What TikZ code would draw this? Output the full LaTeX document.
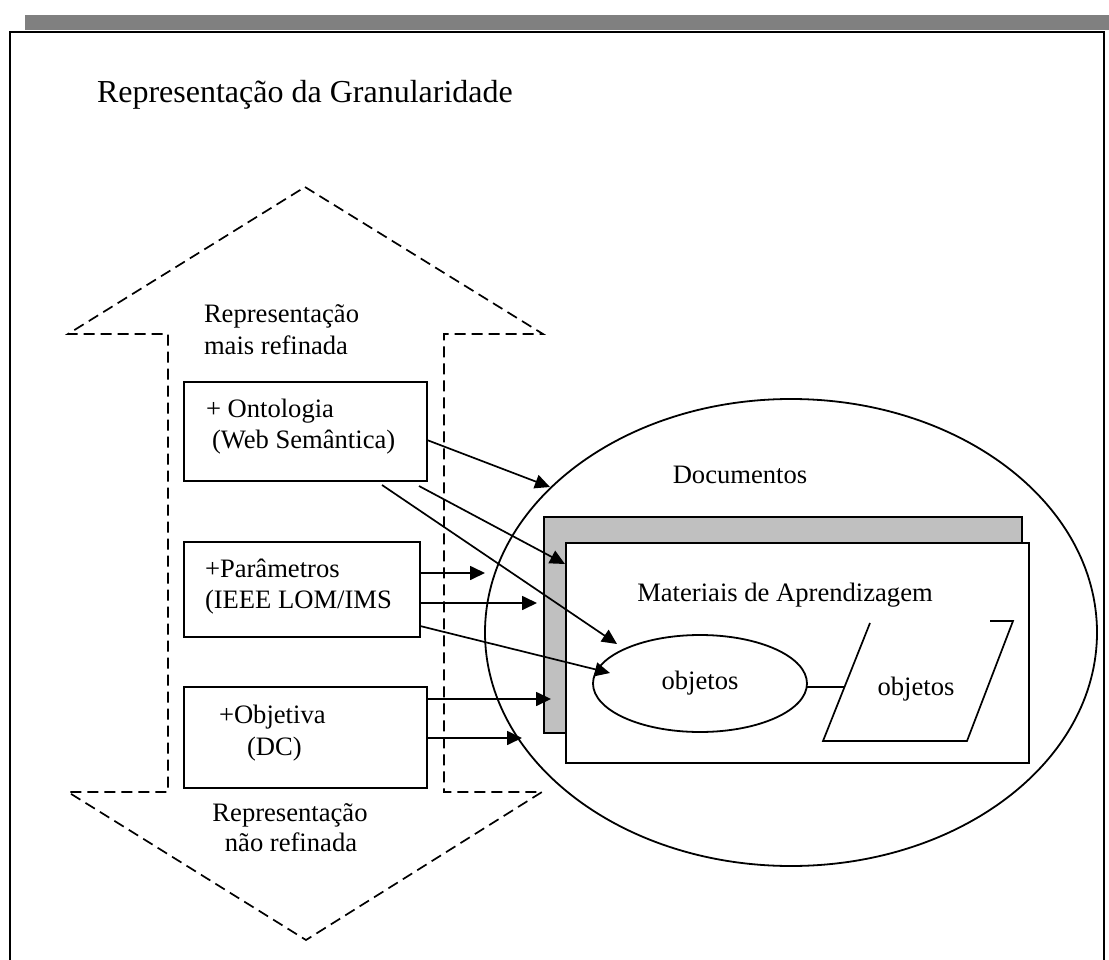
\documentclass[tikz,border=0pt]{standalone}
\usepackage{fontspec}
\setmainfont{Liberation Serif}
\usetikzlibrary{arrows.meta,shapes.geometric,calc}
\definecolor{shadowgray}{HTML}{808080}
\definecolor{sheetgray}{HTML}{C0C0C0}
\begin{document}
\begin{tikzpicture}[x=1pt,y=-1pt,
  every node/.style={inner sep=0pt, outer sep=0pt},
  lbl/.style={font=\fontsize{26.6}{31}\selectfont},
  ttl/.style={font=\fontsize{32}{38}\selectfont},
  box/.style={draw, line width=1.9pt, fill=white, rectangle},
  oval/.style={draw, line width=1.8pt, ellipse},
  dasharrow/.style={line width=1.7pt, dash pattern=on 11pt off 6pt},
  link/.style={line width=1.7pt, -{Triangle[length=15pt,width=14pt]}},
  plain/.style={line width=1.7pt}
]
\useasboundingbox (0,0) rectangle (1109,960);

% page header: shadow bar and frame
\fill[shadowgray] (25,15) rectangle (1109,30.5);
\draw[line width=2pt] (9.5,960) -- (9.5,31.7) -- (1104,31.7) -- (1104,960);

\node[ttl, anchor=base west] (title) at (97,103) {Representação da Granularidade};

% dashed double arrow (granularity scale)
\draw[dasharrow] (305,187) -- (543,334) -- (444,334) -- (444,792) -- (542,792)
  -- (306,940) -- (68,792) -- (168,792) -- (168,334) -- (68,334) -- cycle;

\node[lbl, anchor=base west] (up1) at (204,323) {Representação};
\node[lbl, anchor=base west] (up2) at (204,354) {mais refinada};
\node[lbl, anchor=base] (dn1) at (290,821) {Representação};
\node[lbl, anchor=base] (dn2) at (291,851) {não refinada};

% metadata boxes
\node[box, minimum width=243pt, minimum height=99pt] (b1) at (305.5,431.5) {};
\node[lbl, anchor=base west] (b1a) at (206,417) {+ Ontologia};
\node[lbl, anchor=base west] (b1b) at (212,448) {(Web Semântica)};

\node[box, minimum width=236pt, minimum height=95pt] (b2) at (302,589.5) {};
\node[lbl, anchor=base west] (b2a) at (205,577) {+Parâmetros};
\node[lbl, anchor=base west] (b2b) at (205,608) {(IEEE LOM/IMS};

\node[box, minimum width=243pt, minimum height=101pt] (b3) at (305.5,737.5) {};
\node[lbl, anchor=base west] (b3a) at (219,723) {+Objetiva};
\node[lbl, anchor=base west] (b3b) at (247,755) {(DC)};

% documents
\node[oval, minimum width=612pt, minimum height=467pt] (docs) at (791,632.5) {};
\node[lbl, anchor=base] (docst) at (740,483) {Documentos};

\node[box, fill=sheetgray, minimum width=478pt, minimum height=216pt] (back) at (783,625) {};
\node[box, minimum width=463pt, minimum height=220pt] (mat) at (797.5,653) {};
\node[lbl, anchor=base] (matt) at (785,601) {Materiais de Aprendizagem};

\node[oval, fill=white, minimum width=214pt, minimum height=97pt, lbl] (obj) at (700,683.5) {objetos};

% parallelogram (top edge partly open)
\draw[plain, line join=miter] (990,621) -- (1013,621) -- (967,741) -- (823,741) -- (870,623);
\node[lbl, anchor=base] (obj2) at (916,695) {objetos};
\coordinate (pl) at (844,687);
\draw[plain] (obj.east |- pl) -- (pl);

% arrow targets
\coordinate (e1) at (550,487);
\coordinate (e2) at (565,564);
\coordinate (e3) at (617,644);
\coordinate (e4) at (485,573);
\coordinate (e5) at (537,603);
\coordinate (e6) at (610,673);
\coordinate (e7) at (551,699);
\coordinate (e8) at (522,738);

\draw[link] ($(b1.east)+(0,8.5)$) -- (e1);
\draw[link] ($(b1.south)+(113.5,5)$) -- (e2);
\draw[link] ($(b1.south)+(76.5,4)$) -- (e3);
\draw[link] ($(b2.east)+(0,-16.5)$) -- (e4);
\draw[link] ($(b2.east)+(0,13.5)$) -- (e5);
\draw[link] ($(b2.east)+(0,36.5)$) -- (e6);
\draw[link] ($(b3.east)+(0,-38.5)$) -- (e7);
\draw[link] ($(b3.east)+(0,0.5)$) -- (e8);
\end{tikzpicture}
\end{document}
